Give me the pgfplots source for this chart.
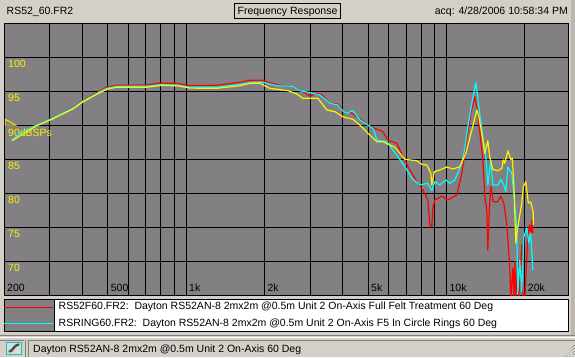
\documentclass[border=0pt]{standalone}
\usepackage{pgfplots}
\pgfplotsset{compat=1.18}
\usepackage{fontspec}
\setmainfont{Liberation Sans}
\definecolor{win}{HTML}{D4D0C8}
\definecolor{plotgray}{HTML}{828082}
\definecolor{dk}{HTML}{808080}
\definecolor{cy}{HTML}{00FFFF}
\newcommand{\uif}{\fontsize{10.5}{11}\selectfont}
\begin{document}
\begin{tikzpicture}[x=1pt,y=1pt]
\path[use as bounding box] (0,0) rectangle (575,357);
\fill[win] (0,0) rectangle (575,357);
\fill[win!88!black] (571,21) rectangle (575,357);
\fill[dk] (0,21) rectangle (575,22.2);
% header
\node[anchor=west,inner sep=0,font=\uif] at (6.5,345) {RS52\_60.FR2};
\node[anchor=center,draw=black,line width=1pt,fill=win,minimum width=106pt,minimum height=15pt,inner sep=0,font=\uif] at (287.5,345.5) {Frequency Response};
\node[anchor=east,inner sep=0,font=\uif] at (568,345) {acq: 4/28/2006 10:58:34 PM};
\begin{axis}[
  at={(4pt,61.7pt)},anchor=south west,
  scale only axis,width=564pt,height=272pt,
  xmode=log,xmin=200,xmax=29310,ymin=65,ymax=105,
  axis background/.style={fill=plotgray},
  axis line style={black,line width=1pt},
  grid=both,
  major grid style={black,line width=1pt},
  minor grid style={black,line width=1pt},
  major tick length=0pt,minor tick length=0pt,
  log basis x=10,
  xtick={200,500,1000,2000,5000,10000,20000},
  xticklabels={200,500,1k,2k,5k,10k,20k},
  minor xtick={300,400,600,700,800,900,3000,4000,6000,7000,8000,9000},
  ytick={70,75,80,85,90,95,100},
  yticklabels={70,75,80,85,90dBSPs,95,100},
  xticklabel style={font=\uif,black,anchor=south west,inner sep=0,xshift=3pt,yshift=3.5pt},
  yticklabel style={font=\uif,yellow,anchor=north west,inner sep=0,xshift=4pt,yshift=-3pt},
  every axis plot/.style={line width=1.2pt,mark=none,line join=round},
]
\addplot[red] coordinates {
(214.7,87.84)(240.8,88.94)(265.3,90.0)(300.3,90.88)(368,92.6)(398.5,93.55)(455,94.82)(497,95.63)(543,95.88)(708,95.93)(794,96.22)(923,96.15)(1035,95.85)(1314,95.88)(1611,96.32)(1760,96.62)(1956,96.62)(2234,95.97)(2550,95.68)(2811,94.94)(2991,94.31)(3181,94.71)(3325,94.5)(3568,93.24)(3830,93.13)(4075,91.76)(4259,92)(4531,91.26)(4994,90.04)(5407,89.41)(5701,89.06)(5959,87.84)(6452,87.35)(6804,85.38)(7238,83.43)(7700,81.71)(8120,80.49)(8486,79.01)(8638,75.34)(8791,75.09)(8870,77.84)(9027,79.01)(9604,79.6)(10127,79.01)(10965,79.75)(11461,82.94)(11873,86.85)(12410,91.76)(12856,94.21)(13202,91.76)(13799,84.9)(14045,79.5)(14296,77.54)(14422,71.66)(14613,77.54)(14810,80.97)(15130,78.76)(15755,78.76)(16179,79.6)(16613,78.57)(17060,75.34)(17518,69.16)(17670,64.5)(17990,69.0)(18148,64.5)(18309,70.0)(18471,64.5)(18801,70.5)(18968,64.5)(19478,72.4)(19650,64.5)(20001,64.5)(20539,73.87)(20905,75.34)(21092,73.13)(21278,76.08)(21466,74.16)
};
\addplot[cy] coordinates {
(214.7,87.84)(230.4,88.72)(265.3,90.0)(300.3,90.88)(368,92.54)(398.5,93.47)(455,94.71)(497,95.44)(543,95.74)(708,95.74)(794,95.97)(923,95.93)(1035,95.59)(1314,95.59)(1611,96.03)(1807,96.32)(1974,96.32)(2234,95.82)(2550,95.74)(2737,95.09)(2991,94.79)(3267,94.46)(3568,93.24)(3830,92.99)(3898,92.5)(4111,91.76)(4374,92.15)(4652,90.78)(5220,89.56)(5407,87.84)(5907,87.59)(6509,85.38)(6925,83.91)(7367,82.21)(7907,81.22)(8486,81.47)(8791,80.38)(9027,81.71)(9436,81.22)(9949,81.96)(10308,81.47)(10773,81.96)(11461,84.41)(11769,86.62)(12085,89.79)(12520,93.24)(12970,96.26)(13319,92.74)(13799,88.32)(14169,85.38)(14422,81.22)(14810,84.9)(15075,81.22)(15755,81.22)(16179,82.06)(16613,81.22)(16909,80.24)(17211,83.82)(17830,82.94)(18309,78.53)(18636,74.6)(18801,65.2)(19137,70.19)(19478,65.5)(19825,73.57)(20358,74.9)(20721,72.69)(21092,74.16)(21466,68.72)
};
\addplot[yellow] coordinates {
(214.7,87.74)(265.3,89.88)(300.3,90.75)(368,92.4)(398.5,93.35)(455,94.58)(497,95.3)(543,95.6)(708,95.6)(794,95.85)(923,95.82)(1035,95.47)(1314,95.44)(1611,95.82)(1760,96.18)(1922,96.18)(2100,95.44)(2462,95.09)(2666,94.6)(2811,93.97)(3210,93.97)(3475,92.25)(3730,92)(4003,91.26)(4374,90.88)(4652,90.04)(4994,88.82)(5407,87.59)(5701,87.59)(6339,86.76)(6925,85)(7700,84.79)(8048,84.26)(8411,84.16)(8714,82.94)(8791,81.22)(8988,83.18)(9436,83.43)(10038,83.87)(10585,83.57)(11260,83.91)(11873,85.88)(12520,89.31)(13086,92.25)(13319,91.26)(13677,88.82)(14045,85.88)(14422,87.74)(14680,85.29)(15075,83.53)(15755,83.32)(16322,83.68)(16530,84.9)(16761,84.41)(17211,86.27)(17675,85)(17910,85.15)(18148,81.47)(18471,72.69)(18800,75.04)(19137,76.81)(19478,78.57)(19740,80.93)(20178,81.71)(20630,78.57)(21092,78.72)(21570,77.1)(21570,75.34)
};
\end{axis}
% marker triangle
\draw[yellow,line width=0.8pt] (5.3,237.7)--(5.3,231.7)--(16,231.7)--cycle;
% legend panel
\fill[white] (4,25.3) rectangle (568,57.7);
\fill[plotgray] (4,25.3) rectangle (54.3,57.7);
\draw[black,line width=1pt] (4,25.3) rectangle (568,57.7);
\draw[black,line width=1pt] (54.3,25.3)--(54.3,57.7);
\draw[red,line width=1pt] (4,49.7)--(53,49.7);
\draw[cy,line width=1pt] (4,33.7)--(53,33.7);
\node[anchor=west,inner sep=0,font=\uif] at (58.5,50) {RS52F60.FR2:\ \ Dayton RS52AN-8 2mx2m @0.5m Unit 2 On-Axis Full Felt Treatment 60 Deg};
\node[anchor=west,inner sep=0,font=\uif] at (58.5,33.5) {RSRING60.FR2:\ \ Dayton RS52AN-8 2mx2m @0.5m Unit 2 On-Axis F5 In Circle Rings 60 Deg};
% status bar
\draw[white,line width=0.8pt] (0,19.8)--(575,19.8);
\draw[dk,line width=0.8pt] (0,17)--(24,17) (28,17)--(575,17);
\draw[dk,line width=0.8pt] (28,17)--(28,0);
\draw[dk,line width=0.8pt] (25.5,17)--(25.5,0);
\draw[cy!80!black,line width=0.8pt,fill=win!80!white] (6.5,3) rectangle (21.5,15);
\draw[black!70,line width=2.4pt,line cap=round] (9.5,5.5) .. controls (13,6) and (14,12) .. (18.5,12.5);
\node[anchor=west,inner sep=0,font=\uif] at (33,7.5) {Dayton RS52AN-8 2mx2m @0.5m Unit 2 On-Axis 60 Deg};
\foreach \d in {3,6,9,12}{\draw[dk,line width=0.8pt] (575-\d,0)--(575,\d);\draw[white,line width=0.5pt] (574-\d,0)--(575,\d-1);}
\end{tikzpicture}
\end{document}
